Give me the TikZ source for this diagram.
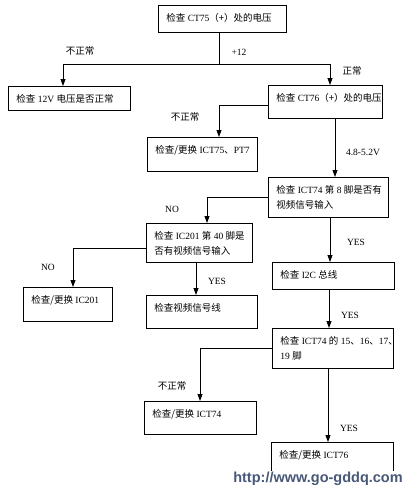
\documentclass[tikz,border=0pt]{standalone}
\usepackage{fontspec}
\setmainfont{Liberation Serif}
\newfontfamily\cjk{Noto Sans CJK SC}
\newfontfamily\wmfont{Liberation Sans}
\newcommand\zh[1]{{\cjk #1}}
\newcommand\bt[3]{\parbox[c][#2][t]{#1}{\begin{tabular}[t]{@{}l@{}}#3\end{tabular}}}
\definecolor{wmblue}{RGB}{72,88,120}
\usetikzlibrary{arrows.meta}

\begin{document}
\begin{tikzpicture}[x=1pt,y=-1pt,line width=.8pt,
  every node/.style={font=\fontsize{9.5}{15}\selectfont},
  box/.style={draw,anchor=north west,inner xsep=8pt,inner ysep=6pt},
  lbl/.style={inner sep=1pt},
  arr/.style={-{Triangle[width=5pt,length=7pt]}}]
  \path[use as bounding box] (0,0) rectangle (411,495);
  % boxes
  \node[box] (b1) at (158,5) {\bt{112pt}{15pt}{\zh{检查} CT75\zh{（+）处的电压}}};
  \node[box] (b2) at (8,86) {\bt{106pt}{12pt}{\zh{检查} 12V \zh{电压是否正常}}};
  \node[box] (b3) at (268,85) {\bt{98pt}{21pt}{\zh{检查} CT76\zh{（+）处的电压}}};
  \node[box] (b4) at (147,137) {\bt{94pt}{22pt}{\zh{检查/更换} ICT75\zh{、}PT7}};
  \node[box] (b5) at (268,177) {\bt{104pt}{28pt}{\zh{检查} ICT74 \zh{第} 8 \zh{脚是否有}\\\zh{视频信号输入}}};
  \node[box] (b6) at (146,223) {\bt{90pt}{27pt}{\zh{检查} IC201 \zh{第} 40 \zh{脚是}\\\zh{否有视频信号输入}}};
  \node[box] (b7) at (23,287) {\bt{73pt}{22pt}{\zh{检查/更换} IC201}};
  \node[box] (b8) at (146,295) {\bt{95pt}{21pt}{\zh{检查视频信号线}}};
  \node[box] (b9) at (272,262) {\bt{106pt}{15pt}{\zh{检查} I2C \zh{总线}}};
  \node[box] (b10) at (272,328) {\bt{105pt}{28pt}{\zh{检查} ICT74 \zh{的} 15\zh{、}16\zh{、}17\zh{、}\\19 \zh{脚}}};
  \node[box] (b11) at (144,401) {\bt{96pt}{21pt}{\zh{检查/更换} ICT74}};
  \node[box] (b12) at (271,442) {\bt{106pt}{30pt}{\zh{检查/更换} ICT76}};
  % connectors
  \coordinate (j1) at (219,64);
  \coordinate (j2) at (63,64);
  \coordinate (j3) at (330,64);
  \draw (b1.south -| j1) -- (j1);
  \draw (j2) -- (j3);
  \draw[arr] (j2) -- (j2 |- b2.north);
  \draw[arr] (j3) -- (j3 |- b3.north);
  \coordinate (j4) at (219,105);
  \draw[arr] (b3.west |- j4) -- (j4) -- (j4 |- b4.north);
  \coordinate (j5) at (335,0);
  \draw[arr] (b3.south -| j5) -- (b5.north -| j5);
  \coordinate (j6) at (207,197);
  \draw[arr] (b5.west |- j6) -- (j6) -- (j6 |- b6.north);
  \coordinate (j7) at (73,248);
  \draw[arr] (b6.west |- j7) -- (j7) -- (j7 |- b7.north);
  \coordinate (j8) at (196,0);
  \draw[arr] (b6.south -| j8) -- (b8.north -| j8);
  \coordinate (j9) at (330,0);
  \draw[arr] (b5.south -| j9) -- (b9.north -| j9);
  \coordinate (j10) at (329,0);
  \draw[arr] (b9.south -| j10) -- (b10.north -| j10);
  \coordinate (j11) at (200,348);
  \draw[arr] (b10.west |- j11) -- (j11) -- (j11 |- b11.north);
  \coordinate (j12) at (328,0);
  \draw[arr] (b10.south -| j12) -- (b12.north -| j12);
  % labels
  \node[lbl] (l1) at (80,51) {\zh{不正常}};
  \node[lbl] (l2) at (239,52) {+12};
  \node[lbl] (l3) at (352,71) {\zh{正常}};
  \node[lbl] (l4) at (185,117) {\zh{不正常}};
  \node[lbl] (l5) at (363,152) {4.8-5.2V};
  \node[lbl] (l6) at (172,209) {NO};
  \node[lbl] (l7) at (356,242) {YES};
  \node[lbl] (l8) at (48,267) {NO};
  \node[lbl] (l9) at (217,281) {YES};
  \node[lbl] (l10) at (350,315) {YES};
  \node[lbl] (l11) at (172,386) {\zh{不正常}};
  \node[lbl] (l12) at (349,428) {YES};
  \node[fill=white,inner sep=1pt,text=wmblue,font=\wmfont\bfseries\fontsize{14.5}{15}\selectfont] (wm) at (318,479) {http://www.go-gddq.com};
\end{tikzpicture}
\end{document}
